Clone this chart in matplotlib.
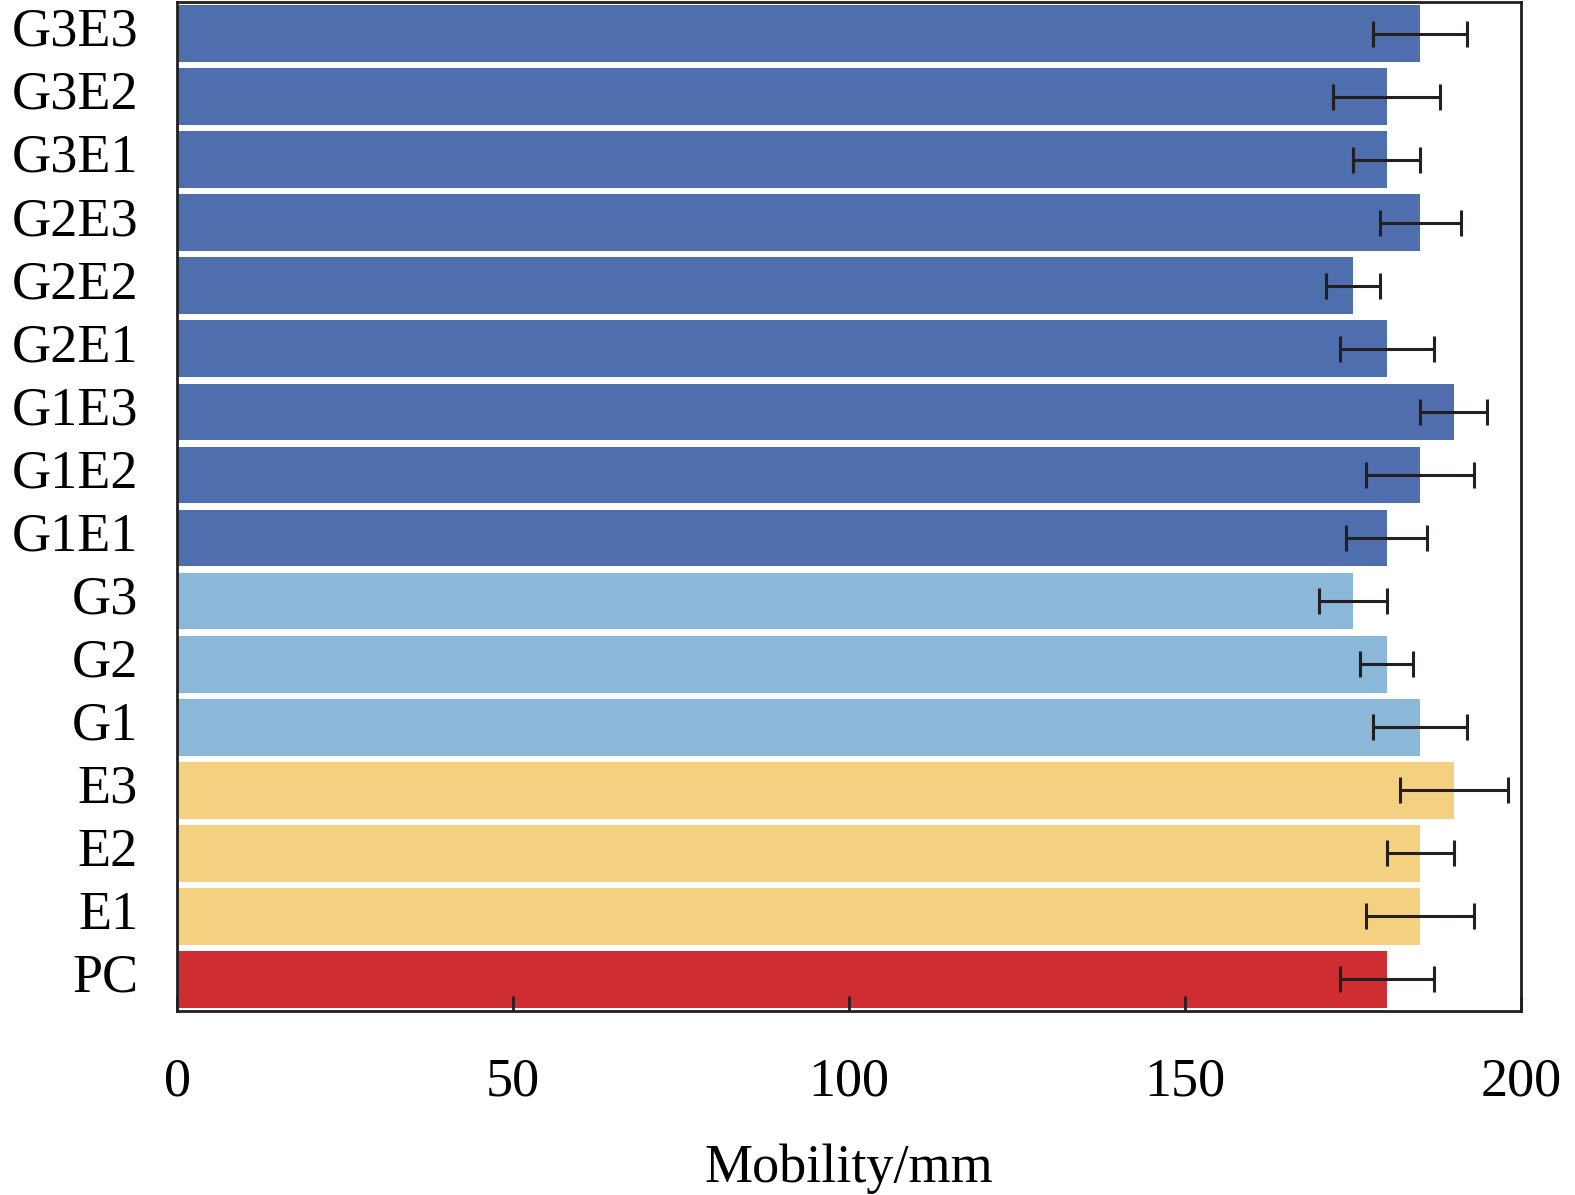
import matplotlib.pyplot as plt
import matplotlib.transforms as mtransforms
import numpy as np

plt.rcParams['font.family'] = ['Liberation Serif', 'DejaVu Serif']

# bottom to top
labels = ['PC', 'E1', 'E2', 'E3', 'G1', 'G2', 'G3',
          'G1E1', 'G1E2', 'G1E3', 'G2E1', 'G2E2', 'G2E3',
          'G3E1', 'G3E2', 'G3E3']
mobility = [180, 185, 185, 190, 185, 180, 175,
            180, 185, 190, 180, 175, 185,
            180, 180, 185]
errors = [7, 8, 5, 8, 7, 4, 5,
          6, 8, 5, 7, 4, 6,
          5, 8, 7]
groups = ['PC', 'E', 'E', 'E', 'G', 'G', 'G',
          'GE', 'GE', 'GE', 'GE', 'GE', 'GE',
          'GE', 'GE', 'GE']

group_colors = {'PC': '#CE2E31', 'E': '#F4D180', 'G': '#8BB7D8', 'GE': '#4E6EAE'}
colors = [group_colors[g] for g in groups]

fig = plt.figure(figsize=(15.75, 11.95), dpi=100)
ax = fig.add_axes([177 / 1575, 1 - 1011 / 1195, (1521 - 177) / 1575, (1011 - 2) / 1195])

y = np.arange(len(labels))
ax.barh(y, mobility, height=0.9, color=colors,
        xerr=errors, error_kw=dict(ecolor='#231F20', elinewidth=2.2, capsize=9.5, capthick=2.2))

ax.set_xlim(0, 200)
ax.set_ylim(-0.5, len(labels) - 0.5)
ax.set_yticks(y)
ax.set_yticklabels(labels)
ax.set_xticks([0, 50, 100, 150, 200])

ax.tick_params(axis='y', length=0, pad=28, labelsize=39)
ax.tick_params(axis='x', direction='in', length=11, width=2, pad=33, labelsize=39, color='#231F20')
for s in ax.spines.values():
    s.set_linewidth(2)
    s.set_color('#231F20')

# nudge category labels up a little, like the original
shift = mtransforms.ScaledTranslation(0, 5 / 72, fig.dpi_scale_trans)
for lbl in ax.get_yticklabels():
    lbl.set_transform(lbl.get_transform() + shift)

ax.set_xlabel('Mobility/mm', fontsize=39, labelpad=26)

fig.savefig('out.png', dpi=100)
